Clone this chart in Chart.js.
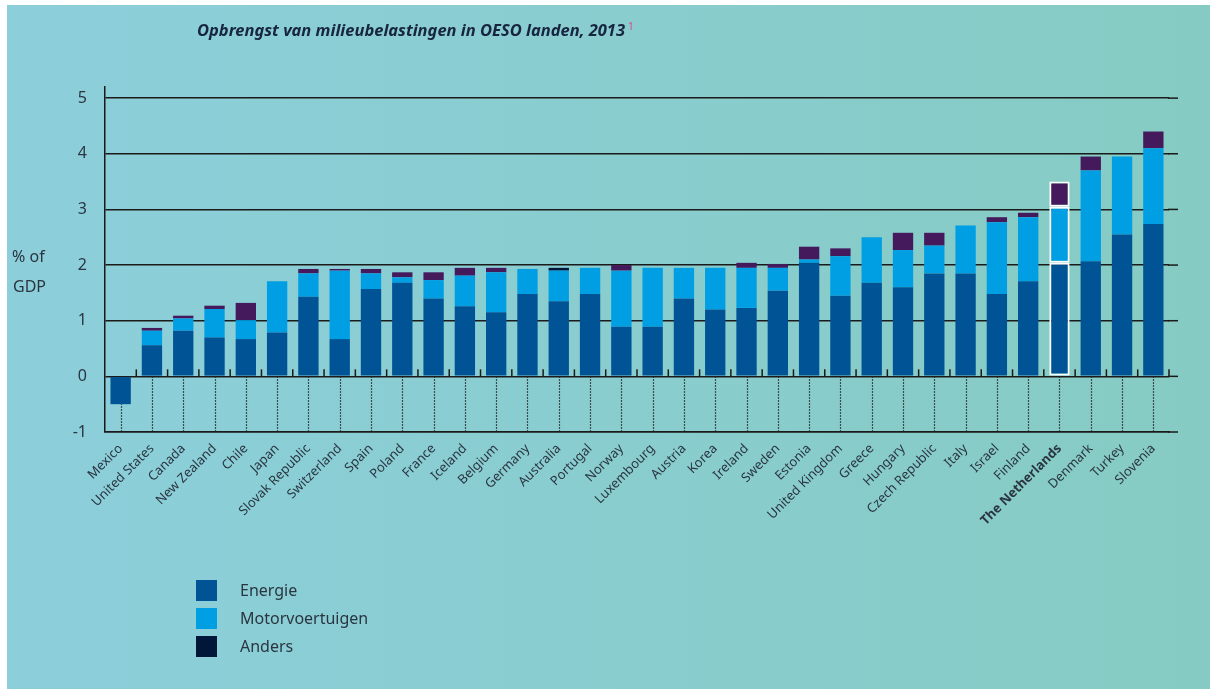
<!DOCTYPE html>
<html>
<head>
<meta charset="utf-8">
<script src="https://cdn.jsdelivr.net/npm/chart.js@4/dist/chart.umd.min.js"></script>
<style>
  html, body { margin: 0; background: #86cbc3; overflow: hidden; }
  #chart { display: block; }
</style>
</head>
<body>
<canvas id="chart" width="1210" height="689"></canvas>
<script>
// data (% of GDP)
const countries = ['Mexico', 'United States', 'Canada', 'New Zealand', 'Chile', 'Japan', 'Slovak Republic',
  'Switzerland', 'Spain', 'Poland', 'France', 'Iceland', 'Belgium', 'Germany', 'Australia', 'Portugal',
  'Norway', 'Luxembourg', 'Austria', 'Korea', 'Ireland', 'Sweden', 'Estonia', 'United Kingdom', 'Greece',
  'Hungary', 'Czech Republic', 'Italy', 'Israel', 'Finland', 'The Netherlands', 'Denmark', 'Turkey', 'Slovenia'];
const energie = [-0.5, 0.56, 0.82, 0.70, 0.67, 0.79, 1.43, 0.67, 1.57, 1.68, 1.40, 1.26, 1.15, 1.48, 1.35, 1.48,
  0.89, 0.89, 1.40, 1.20, 1.23, 1.54, 2.04, 1.45, 1.68, 1.60, 1.85, 1.85, 1.48, 1.71, 2.04, 2.07, 2.55, 2.74];
const motorvoertuigen = [0, 0.26, 0.22, 0.51, 0.34, 0.92, 0.42, 1.23, 0.28, 0.10, 0.33, 0.55, 0.72, 0.45, 0.55, 0.47,
  1.01, 1.06, 0.55, 0.75, 0.72, 0.41, 0.06, 0.71, 0.82, 0.67, 0.50, 0.86, 1.29, 1.15, 1.01, 1.63, 1.40, 1.36];
const anders = [0, 0.05, 0.05, 0.06, 0.31, 0, 0.08, 0.03, 0.08, 0.09, 0.14, 0.14, 0.08, 0, 0.05, 0,
  0.10, 0, 0, 0, 0.09, 0.07, 0.23, 0.14, 0, 0.31, 0.23, 0, 0.09, 0.08, 0.45, 0.25, 0, 0.30];
const yTicks = [-1, 0, 1, 2, 3, 4, 5];

const G_FONT = '"Noto Sans", sans-serif';
const G_HIGHLIGHT = countries.indexOf('The Netherlands');
const gColors = { energie: '#005495', motor: '#009fe3', anders: '#451a5c', andersLegend: '#00173a' };

// highlighted bar gets a white outline
function highlightBorder(c) {
  return c.dataIndex === G_HIGHLIGHT ? 2 : 0;
}

// background, title, y title and legend
const decorPlugin = {
  id: 'decor',
  beforeDraw(chart) {
    const { ctx, width, height } = chart;
    ctx.save();
    ctx.fillStyle = '#fff';
    ctx.fillRect(0, 0, width, height);
    let g = ctx.createLinearGradient(7, 0, width, 0);
    g.addColorStop(0, '#8ccfdb');
    g.addColorStop(1, '#86cbc3');
    ctx.fillStyle = g;
    ctx.fillRect(7, 5, width - 7, height - 5);
    ctx.restore();
  },
  afterDraw(chart) {
    const ctx = chart.ctx;
    ctx.save();
    // title, squeezed to the width of the original
    let title = 'Opbrengst van milieubelastingen in OESO landen, 2013';
    ctx.font = 'italic bold 16px ' + G_FONT;
    ctx.fillStyle = '#17253f';
    ctx.textBaseline = 'alphabetic';
    let w = ctx.measureText(title).width;
    ctx.save();
    ctx.translate(197, 36);
    ctx.scale(428 / w, 1);
    ctx.fillText(title, 0, 0);
    ctx.restore();
    ctx.font = '10px ' + G_FONT;
    ctx.fillStyle = '#e2457e';
    ctx.fillText('1', 628, 30);

    // y title
    ctx.font = '16px ' + G_FONT;
    ctx.fillStyle = '#2a3540';
    ctx.textAlign = 'left';
    ctx.textBaseline = 'middle';
    ctx.fillText('% of', 12, 257);
    ctx.fillText('GDP', 13, 287);

    // legend
    let items = [
      { text: chart.data.datasets[0].label, color: gColors.energie },
      { text: chart.data.datasets[1].label, color: gColors.motor },
      { text: chart.data.datasets[2].label, color: gColors.andersLegend },
    ];
    items.forEach((item, i) => {
      let y = 580 + i * 28;
      ctx.fillStyle = item.color;
      ctx.fillRect(196, y, 21, 21);
      ctx.fillStyle = '#2a3540';
      ctx.fillText(item.text, 240, y + 11);
    });
    ctx.restore();
  },
  beforeDatasetsDraw(chart) {
    const { ctx, chartArea } = chart;
    const xs = chart.scales.x;
    const ys = chart.scales.y;
    let y0 = ys.getPixelForValue(0);
    let yMin = ys.getPixelForValue(-1);
    let half = (xs.getPixelForValue(1) - xs.getPixelForValue(0)) / 2;
    ctx.save();
    // dotted lines below zero
    ctx.strokeStyle = '#222';
    ctx.lineWidth = 1.2;
    ctx.setLineDash([1.5, 1.5]);
    countries.forEach((c, i) => {
      let x = Math.round(xs.getPixelForValue(i)) + 0.5;
      ctx.beginPath();
      ctx.moveTo(x, y0);
      ctx.lineTo(x, yMin);
      ctx.stroke();
    });
    ctx.setLineDash([]);
    // small ticks above the zero line
    ctx.lineWidth = 1.5;
    ctx.strokeStyle = '#1a1a1a';
    countries.forEach((c, i) => {
      let x = xs.getPixelForValue(i) + half;
      ctx.beginPath();
      ctx.moveTo(x, y0);
      ctx.lineTo(x, y0 - 7);
      ctx.stroke();
    });
    // grid lines run a little past the last category
    yTicks.forEach((v) => {
      let y = ys.getPixelForValue(v);
      ctx.beginPath();
      ctx.moveTo(chartArea.right - 1, y);
      ctx.lineTo(chartArea.right + 9, y);
      ctx.stroke();
    });
    ctx.restore();
  },
};

new Chart(document.getElementById('chart'), {
  type: 'bar',
  data: {
    labels: countries,
    datasets: [
      {
        label: 'Energie',
        data: energie,
        backgroundColor: gColors.energie,
        borderColor: '#fff',
        borderWidth: highlightBorder,
        borderSkipped: false,
      },
      {
        label: 'Motorvoertuigen',
        data: motorvoertuigen,
        backgroundColor: gColors.motor,
        borderColor: '#fff',
        borderWidth: highlightBorder,
        borderSkipped: false,
      },
      {
        label: 'Anders',
        data: anders,
        backgroundColor: (c) => (countries[c.dataIndex] === 'Australia' ? gColors.andersLegend : gColors.anders),
        borderColor: '#fff',
        borderWidth: highlightBorder,
        borderSkipped: false,
      },
    ],
  },
  options: {
    responsive: false,
    animation: false,
    categoryPercentage: 1,
    barPercentage: 0.65,
    layout: { padding: { top: 87, left: 0, right: 41, bottom: 0 } },
    plugins: {
      legend: { display: false },
      tooltip: { enabled: false },
    },
    scales: {
      x: {
        stacked: true,
        grid: { display: false },
        border: { display: true, color: '#1a1a1a', width: 1.5 },
        ticks: {
          autoSkip: false,
          minRotation: 45,
          maxRotation: 45,
          padding: 1,
          color: '#2a3540',
          font: (c) => ({ family: G_FONT, size: 13, weight: c.index === G_HIGHLIGHT ? 'bold' : 'normal' }),
        },
        afterFit: (s) => { s.height = 257; },
      },
      y: {
        stacked: true,
        min: -1,
        max: 5.2,
        grid: { color: '#1a1a1a', lineWidth: 1.5, drawTicks: false },
        border: { display: true, color: '#1a1a1a', width: 1.5 },
        ticks: {
          padding: 18,
          color: '#2a3540',
          font: { family: G_FONT, size: 16 },
        },
        afterBuildTicks: (s) => { s.ticks = yTicks.map((v) => ({ value: v })); },
        afterFit: (s) => { s.width = 105; },
      },
    },
  },
  plugins: [decorPlugin],
});
</script>
</body>
</html>
